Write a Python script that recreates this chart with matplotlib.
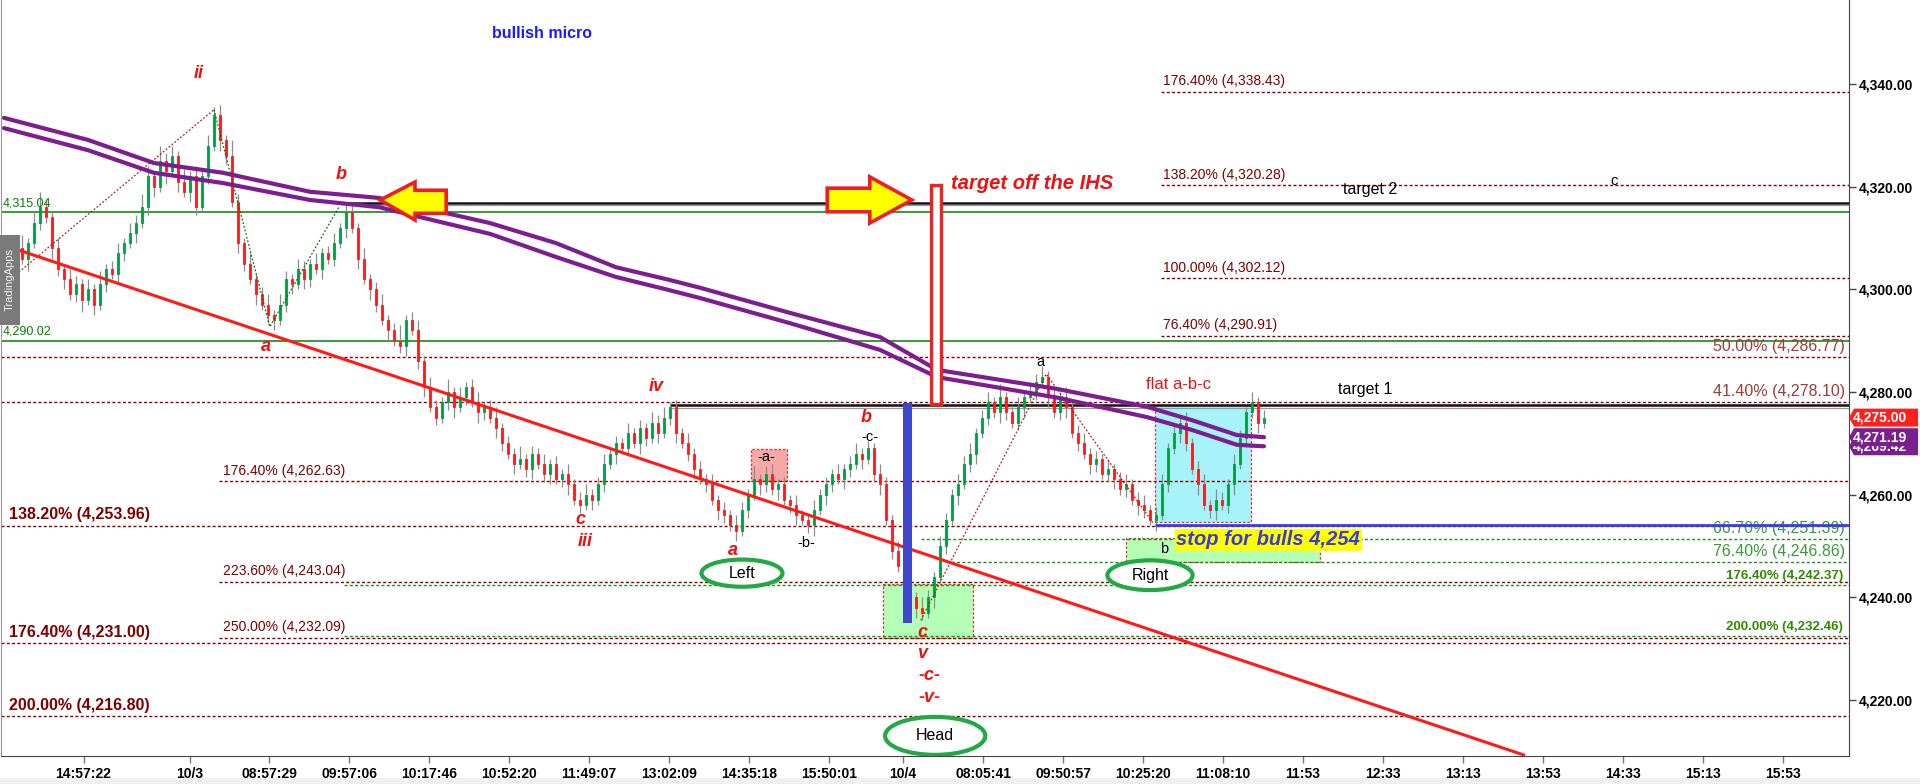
import matplotlib
matplotlib.use('Agg')
import matplotlib.pyplot as plt
from matplotlib.patches import Rectangle, Polygon, Ellipse
import matplotlib.transforms as mtransforms

plt.rcParams['font.family'] = ['Liberation Sans', 'DejaVu Sans']

# ---------------- data ----------------
first_open = 4305
closes = [4306, 4304, 4308, 4306, 4309, 4313, 4316, 4314, 4308, 4304,
          4302, 4299, 4301, 4298, 4300, 4297, 4301, 4304, 4303, 4307,
          4309, 4311, 4313, 4316, 4322, 4320, 4325, 4323, 4326, 4321,
          4319, 4322, 4316, 4322, 4328, 4334, 4329, 4326, 4317, 4309,
          4305, 4302, 4299, 4297, 4295, 4294, 4297, 4302, 4301, 4304,
          4302, 4305, 4304, 4307, 4306, 4309, 4312, 4315, 4312, 4306,
          4302, 4300, 4297, 4294, 4292, 4290, 4289, 4294, 4292, 4286,
          4281, 4277, 4275, 4278, 4280, 4277, 4279, 4281, 4278, 4276,
          4277, 4275, 4273, 4270, 4268, 4266, 4267, 4265, 4268, 4266,
          4264, 4266, 4263, 4264, 4262, 4259, 4258, 4260, 4259, 4262,
          4266, 4268, 4270, 4269, 4272, 4270, 4273, 4271, 4274, 4272,
          4275, 4277, 4272, 4270, 4268, 4265, 4263, 4262, 4259, 4257,
          4256, 4254, 4253, 4257, 4260, 4263, 4262, 4264, 4261, 4262,
          4259, 4258, 4256, 4255, 4254, 4257, 4260, 4262, 4264, 4263,
          4265, 4266, 4268, 4267, 4269, 4264, 4262, 4255, 4249, 4246,
          4244, 4240, 4238, 4237, 4240, 4244, 4250, 4255, 4260, 4262,
          4266, 4268, 4272, 4275, 4278, 4276, 4279, 4276, 4274, 4277,
          4279, 4280, 4282, 4283, 4279, 4276, 4279, 4277, 4272, 4270,
          4268, 4266, 4267, 4264, 4265, 4263, 4261, 4262, 4259, 4258,
          4257, 4255, 4256, 4262, 4269, 4272, 4274, 4270, 4265, 4262,
          4258, 4257, 4259, 4258, 4262, 4266, 4271, 4276, 4278, 4274,
          4275]
up_wick = [1.5, 2, 1, 2.5, 1, 2, 3, 1.5, 1, 2,
           1, 2, 1.5, 1, 2, 1, 2.5, 1, 1.5, 2,
           1, 2, 1.5, 2.5, 2, 1, 3, 1.5, 2, 1,
           2.5, 1, 2, 1.5, 2, 1.5, 2, 1, 3, 1.5,
           1, 2, 1, 1.5, 2, 1, 2, 1.5, 1, 2,
           1.5, 1, 2, 1, 1.5, 2, 1, 2, 1.5, 1,
           2, 1, 1.5, 2, 1, 1.5, 3, 1, 1.5, 2,
           1, 2, 1.5, 1, 2.5, 1, 2, 1, 1.5, 2,
           1, 1.5, 2, 1, 1.5, 1, 2.5, 1, 1.5, 1,
           2, 1, 1.5, 1, 2, 1, 1.5, 2, 1, 1.5,
           2, 1, 1.5, 1, 2, 1, 1.5, 1, 2, 1.5,
           2, 1, 1.5, 1, 2, 1, 1.5, 1, 2, 1,
           1.5, 1, 2, 1.5, 1, 2.5, 1, 1.5, 2, 1,
           1.5, 1, 2, 1, 1.5, 2, 1, 1.5, 1, 2,
           1, 1.5, 2, 1, 1.5, 1, 2, 1.5, 1, 2,
           1.5, 2, 1, 2, 1.5, 1, 2, 1.5, 1, 2,
           1.5, 2, 1, 1.5, 2, 1, 2.5, 1, 1.5, 2,
           1, 2, 1.5, 2, 1, 1.5, 1, 2, 1, 1.5,
           2, 1, 1.5, 1, 2, 1, 1.5, 2, 1, 1.5,
           2, 1, 1.5, 2, 1, 1.5, 1, 2, 1, 1.5,
           2, 1, 2, 1.5, 1, 2, 1.5, 1, 2, 1,
           1.5]
dn_wick = [1, 1.5, 2, 1, 2.5, 1, 1.5, 1, 2, 1.5,
           2, 1, 1.5, 2.5, 1, 2, 1, 1.5, 1, 2,
           1.5, 1, 2, 1, 1.5, 2, 1, 2.5, 1, 2,
           1, 2, 1.5, 1, 1.5, 1, 2, 1.5, 1, 2,
           1.5, 1, 2, 1, 1.5, 2, 1, 1.5, 2, 1,
           2, 1.5, 1, 2, 1, 1.5, 1, 2, 1, 2,
           1, 2, 1.5, 1, 2, 1, 1.5, 2, 1, 1.5,
           2, 1, 1.5, 1, 1.5, 2, 1, 1.5, 1, 2,
           1.5, 1, 2, 1.5, 1, 2, 1, 1.5, 2, 1,
           1.5, 2, 1, 1.5, 2, 1, 1.5, 1, 2, 1,
           1.5, 1, 2, 1, 1.5, 1, 2, 1.5, 1, 2,
           1, 1.5, 2, 1, 1.5, 2, 1, 1.5, 1, 2,
           1.5, 1, 2, 1, 1.5, 1, 2, 1.5, 1, 2,
           1, 1.5, 2, 1, 1.5, 2, 1, 2, 1.5, 1,
           2, 1.5, 1, 2, 1, 1.5, 2, 1, 1.5, 1,
           1.5, 1, 2, 1.5, 1, 2, 1, 1.5, 1, 2,
           1, 1.5, 2, 1, 1.5, 1, 2, 1.5, 1, 1.5,
           2, 1, 1.5, 1, 2, 1, 1.5, 2, 1, 1.5,
           1, 2, 1.5, 1, 1.5, 2, 1, 1.5, 1, 2,
           1.5, 1, 2, 1, 1.5, 1, 2, 1.5, 1, 2,
           1, 1.5, 2, 1, 1.5, 2, 1, 1.5, 1, 2,
           1]

ma_x = [0, 14, 25, 36.5, 51, 62.5, 73.5, 81, 92, 102, 111, 116, 131, 146, 155.5, 175.5, 190.5, 198, 205.5, 210]
ma_upper = [4333.4, 4329.1, 4324.6, 4322.7, 4319.0, 4317.8, 4314.9, 4312.9, 4309.0, 4304.3,
            4301.8, 4300.3, 4295.4, 4290.7, 4284.3, 4280.6, 4277.1, 4274.5, 4271.6, 4271.19]
ma_lower = [4331.4, 4327.1, 4322.7, 4320.7, 4317.4, 4316.0, 4312.9, 4310.8, 4306.3, 4302.4,
            4299.8, 4298.3, 4293.4, 4288.2, 4282.9, 4278.9, 4275.1, 4272.6, 4269.7, 4269.42]

trend_x = [0, 253.5]
trend_y = [4308.6, 4209.2]

xt_pos = [13.25, 31, 44.2, 57.5, 70.8, 84.2, 97.5, 110.8, 124.2, 137.5, 149.8, 163.2,
          176.5, 189.8, 203.2, 216.5, 229.8, 243.2, 256.5, 269.8, 283.2, 296.5]
xt_lab = ['14:57:22', '10/3', '08:57:29', '09:57:06', '10:17:46', '10:52:20', '11:49:07',
          '13:02:09', '14:35:18', '15:50:01', '10/4', '08:05:41', '09:50:57', '10:25:20',
          '11:08:10', '11:53', '12:33', '13:13', '13:53', '14:33', '15:13', '15:53']
yt_pos = [4220, 4240, 4260, 4280, 4300, 4320, 4340]

# fib levels
fib_top_prices = [4338.43, 4320.28, 4302.12, 4290.91]
fib_top_labels = ['176.40% (4,338.43)', '138.20% (4,320.28)', '100.00% (4,302.12)', '76.40% (4,290.91)']
fib_mid_prices = [4262.63, 4243.04, 4232.09]
fib_mid_labels = ['176.40% (4,262.63)', '223.60% (4,243.04)', '250.00% (4,232.09)']
fib_left_prices = [4253.96, 4231.00, 4216.80]
fib_left_labels = ['138.20% (4,253.96)', '176.40% (4,231.00)', '200.00% (4,216.80)']
fib_right_prices = [4286.77, 4278.10]
fib_right_labels = ['50.00% (4,286.77)', '41.40% (4,278.10)']
gfib_big_prices = [4251.39, 4246.86]
gfib_big_start = [152.8, 157]
gfib_big_labels = ['66.70% (4,251.39)', '76.40% (4,246.86)']
gfib_small_prices = [4242.37, 4232.46]
gfib_small_labels = ['176.40% (4,242.37)', '200.00% (4,232.46)']
green_lines = [4315.04, 4290.02]
green_line_labels = ['4,315.04', '4,290.02']
target_prices = [4316.9, 4277.4]
target_start = [57.3, 111]
stop_price = 4254.0
tag_values = [4269.42, 4271.19, 4275.00]
tag_colors = ['#7a1f8e', '#7a1f8e', '#ff2020']

XMIN, XMAX = -0.5, 307.5
YMIN, YMAX = 4209.08, 4356.36

# ---------------- figure ----------------
fig = plt.figure(figsize=(19.2, 7.84), dpi=100)
fig.patch.set_facecolor('white')
ax = fig.add_axes([1 / 1920, 28 / 784, 1848 / 1920, 756 / 784])
ax.set_xlim(XMIN, XMAX)
ax.set_ylim(YMIN, YMAX)
ax.set_facecolor('white')

DR = '#8b0000'
GR = '#1e8c1e'
dash = (0, (2.2, 1.6))

# boxes (behind candles)
boxes = [
    (124.5, 130.5, 4262.7, 4268.9, '#f5a8a8'),
    (146.5, 161.5, 4232.1, 4242.6, '#b6ffb6'),
    (187.0, 219.3, 4246.9, 4251.6, '#b6ffb6'),
    (191.8, 207.8, 4254.7, 4277.5, '#a6f3fa'),
]
for x0, x1, y0, y1, fc in boxes:
    ax.add_patch(Rectangle((x0, y0), x1 - x0, y1 - y0, facecolor=fc, edgecolor='#e03030',
                           lw=0.9, ls=(0, (2, 1.5)), zorder=1))

# horizontal levels
for p in fib_top_prices:
    ax.hlines(p, 192.8, XMAX, colors=DR, lw=1, linestyles=dash, zorder=2)
for p, lab in zip(fib_top_prices, fib_top_labels):
    ax.text(193.2, p + 0.7, lab, color='#7a0000', fontsize=10, ha='left', va='bottom', zorder=5)
for p in fib_mid_prices:
    ax.hlines(p, 35.8, XMAX, colors=DR, lw=1, linestyles=dash, zorder=2)
for p, lab in zip(fib_mid_prices, fib_mid_labels):
    ax.text(36.5, p + 0.7, lab, color='#7a0000', fontsize=10, ha='left', va='bottom', zorder=5)
for p in fib_left_prices + fib_right_prices:
    ax.hlines(p, XMIN, XMAX, colors=DR, lw=1, linestyles=dash, zorder=2)
for p, lab in zip(fib_left_prices, fib_left_labels):
    ax.text(0.8, p + 0.7, lab, color='#800000', fontsize=11.5, fontweight='bold',
            ha='left', va='bottom', zorder=5)
for p, lab in zip(fib_right_prices, fib_right_labels):
    ax.text(306.8, p + 0.6, lab, color='#a03a3a', fontsize=11.5, ha='right', va='bottom', zorder=5)
for p, s in zip(gfib_big_prices, gfib_big_start):
    ax.hlines(p, s, XMAX, colors=GR, lw=1, linestyles=dash, zorder=2)
for p, lab in zip(gfib_big_prices, gfib_big_labels):
    ax.text(306.8, p + 0.6, lab, color='#3a9a3a', fontsize=11.5, ha='right', va='bottom', zorder=5)
for p in gfib_small_prices:
    ax.hlines(p, 56.7, XMAX, colors=GR, lw=1, linestyles=dash, zorder=2)
for p, lab in zip(gfib_small_prices, gfib_small_labels):
    ax.text(306.5, p + 0.6, lab, color='#2e8b00', fontsize=9.5, fontweight='bold',
            ha='right', va='bottom', zorder=5)
for p, lab in zip(green_lines, green_line_labels):
    ax.hlines(p, XMIN, XMAX, colors='#008000', lw=1.1, zorder=2)
    ax.text(-0.2, p + 0.6, lab, color='#008000', fontsize=9, ha='left', va='bottom', zorder=5)
for p, s in zip(target_prices, target_start):
    ax.hlines(p, s, XMAX, colors='#111111', lw=1.8, zorder=3)
    ax.hlines(p - 0.45, s, XMAX, colors='#9a9a9a', lw=0.9, zorder=3)

# candles
opens = [first_open] + closes[:-1]
for i, (o, c, u, d) in enumerate(zip(opens, closes, up_wick, dn_wick)):
    hi = max(o, c) + u
    lo = min(o, c) - d
    ax.vlines(i, lo, hi, colors='#8c8c8c', lw=0.9, zorder=4)
    col = '#00a040' if c >= o else '#ff1a1a'
    h = max(abs(c - o), 0.4)
    ax.add_patch(Rectangle((i - 0.2, min(o, c)), 0.4, h, facecolor=col, edgecolor=col,
                           lw=0.6, zorder=4.5))

# zigzag dotted wave lines
ax.plot([1.5, 35], [4302.4, 4335.0], color='#b02020', lw=0.9, ls=(0, (1.5, 1.5)), zorder=5)
ax.plot([35, 44.3, 55.8], [4335.0, 4292.7, 4316.0], color='#107010', lw=0.9, ls=(0, (1.5, 1.5)), zorder=5)
ax.plot([152.8, 173.7, 191.5], [4235.5, 4283.5, 4254.5], color='#b02020', lw=0.9, ls=(0, (1.5, 1.5)), zorder=5)

# trend line
ax.plot(trend_x, trend_y, color='#ff1a1a', lw=2.2, zorder=6, solid_capstyle='butt')

# moving averages
ax.plot(ma_x, ma_upper, color='#7d1d8f', lw=3.0, zorder=7, solid_capstyle='round')
ax.plot(ma_x, ma_lower, color='#7d1d8f', lw=3.0, zorder=7, solid_capstyle='round')

# stop line
ax.hlines(stop_price, 191.8, XMAX, colors='#3a3af0', lw=2.0, zorder=8)

# blue bar and red hollow bar
ax.add_patch(Rectangle((149.9, 4235.05), 1.5, 4277.9 - 4235.05, facecolor='#3f48cc',
                       edgecolor='none', zorder=8))
ax.add_patch(Rectangle((154.5, 4277.6), 1.6, 4320.3 - 4277.6, facecolor='white',
                       edgecolor='#ee2222', lw=2.4, zorder=8))

# yellow arrows
left_arrow = [(62.7, 4317.4), (68.5, 4320.9), (68.5, 4319.3), (73.7, 4319.3),
              (73.7, 4314.8), (68.5, 4314.8), (68.5, 4313.5)]
right_arrow = [(151.3, 4317.4), (144.3, 4321.9), (144.3, 4319.7), (137.2, 4319.7),
               (137.2, 4315.1), (144.3, 4315.1), (144.3, 4312.9)]
for pts in (left_arrow, right_arrow):
    ax.add_patch(Polygon(pts, closed=True, facecolor='#ffff00', edgecolor='#ee1c24',
                         lw=2.6, joinstyle='miter', zorder=9))

# ellipses
for cx, cy, w, h, lab in [(123, 4244.7, 13.5, 5.3, 'Left'),
                          (155.2, 4213.0, 16.7, 7.4, 'Head'),
                          (191, 4244.3, 14.2, 5.8, 'Right')]:
    ax.add_patch(Ellipse((cx, cy), w, h, facecolor='white', edgecolor='#22a845', lw=3, zorder=9))
    ax.text(cx, cy, lab, fontsize=11.5, color='black', ha='center', va='center', zorder=10)

# wave labels (red bold italic)
red_labels = [(32.5, 4342.1, 'ii'), (56.2, 4322.3, 'b'), (43.7, 4288.8, 'a'),
              (108.7, 4281.0, 'iv'), (96, 4255.1, 'c'), (96.8, 4250.8, 'iii'),
              (121.5, 4249.2, 'a'), (143.7, 4275.1, 'b'), (153, 4233.2, 'c'),
              (153, 4229.0, 'v'), (154.2, 4224.7, '-c-'), (154.2, 4220.4, '-v-')]
for x, y, t in red_labels:
    ax.text(x, y, t, color='#ee1111', fontsize=13, fontweight='bold', fontstyle='italic',
            ha='center', va='center', zorder=10)

black_labels = [(144.3, 4271.2, '-c-'), (127, 4267.3, '-a-'), (133.7, 4250.6, '-b-'),
                (172.7, 4285.8, 'a'), (268.3, 4321.1, 'c'), (193.3, 4249.4, 'b')]
for x, y, t in black_labels:
    ax.text(x, y, t, color='black', fontsize=10.5, ha='center', va='center', zorder=10)

ax.text(226.8, 4280.4, 'target 1', color='black', fontsize=11.5, ha='center', va='center', zorder=10)
ax.text(227.7, 4319.4, 'target 2', color='black', fontsize=11.5, ha='center', va='center', zorder=10)
ax.text(195.7, 4281.4, 'flat a-b-c', color='#ee1111', fontsize=12, ha='center', va='center', zorder=10)
ax.text(157.9, 4320.7, 'target off the IHS', color='#ee1111', fontsize=14.5, fontweight='bold',
        fontstyle='italic', ha='left', va='center', zorder=10)
ax.text(89.7, 4349.9, 'bullish micro', color='#1a1aff', fontsize=11.5, fontweight='bold',
        ha='center', va='center', zorder=10)
ax.text(195.4, 4251.2, 'stop for bulls 4,254', color='#3a3ad8', fontsize=14.5, fontweight='bold',
        fontstyle='italic', ha='left', va='center', zorder=11,
        bbox=dict(facecolor='#ffff00', edgecolor='none', pad=1.0))

# axes styling
ax.spines['top'].set_visible(False)
ax.spines['right'].set_color('#444444')
ax.spines['bottom'].set_color('#444444')
ax.spines['left'].set_color('#999999')
ax.yaxis.tick_right()
ax.set_yticks(yt_pos)
ax.set_yticklabels(['{:,.2f}'.format(v) for v in yt_pos])
ax.set_xticks(xt_pos)
ax.set_xticklabels(xt_lab)
ax.tick_params(axis='y', direction='out', length=5, width=1, color='#444444', pad=2, labelsize=10)
ax.tick_params(axis='x', direction='out', length=5, width=1, color='#777777', pad=3, labelsize=10)
for lab in ax.get_yticklabels() + ax.get_xticklabels():
    lab.set_fontweight('bold')

# right-axis price tags (pentagon shaped), later tags drawn on top of earlier ones
trans = mtransforms.blended_transform_factory(ax.transAxes, ax.transData)
tip = 5 / 1848
wid = 69 / 1848
hh = 1.75
for k, (val, bg) in enumerate(zip(tag_values, tag_colors)):
    z = 19 + 2 * k
    ax.add_patch(Polygon([(1.0, val), (1.0 + tip, val + hh), (1.0 + wid, val + hh),
                          (1.0 + wid, val - hh), (1.0 + tip, val - hh)], closed=True,
                         transform=trans, facecolor=bg, edgecolor='none', clip_on=False, zorder=z))
    ax.text(1.0 + 4 / 1848, val, '{:,.2f}'.format(val), transform=trans, color='white', fontsize=10,
            fontweight='bold', ha='left', va='center', zorder=z + 1, clip_on=False)

# TradingApps side label
fig.patches.append(Rectangle((0, 0.5855), 20 / 1920, 0.115, transform=fig.transFigure,
                             facecolor='#7a7a7a', edgecolor='none', zorder=20))
fig.text(10 / 1920, 0.643, 'TradingApps', rotation=90, color='#f0f0f0', fontsize=8,
         ha='center', va='center', zorder=21)
# bottom grey strip
fig.patches.append(Rectangle((0, 0), 1, 6 / 784, transform=fig.transFigure,
                             facecolor='#f0f0f0', edgecolor='none', zorder=0))

fig.savefig('out.png', dpi=100, facecolor='white')
